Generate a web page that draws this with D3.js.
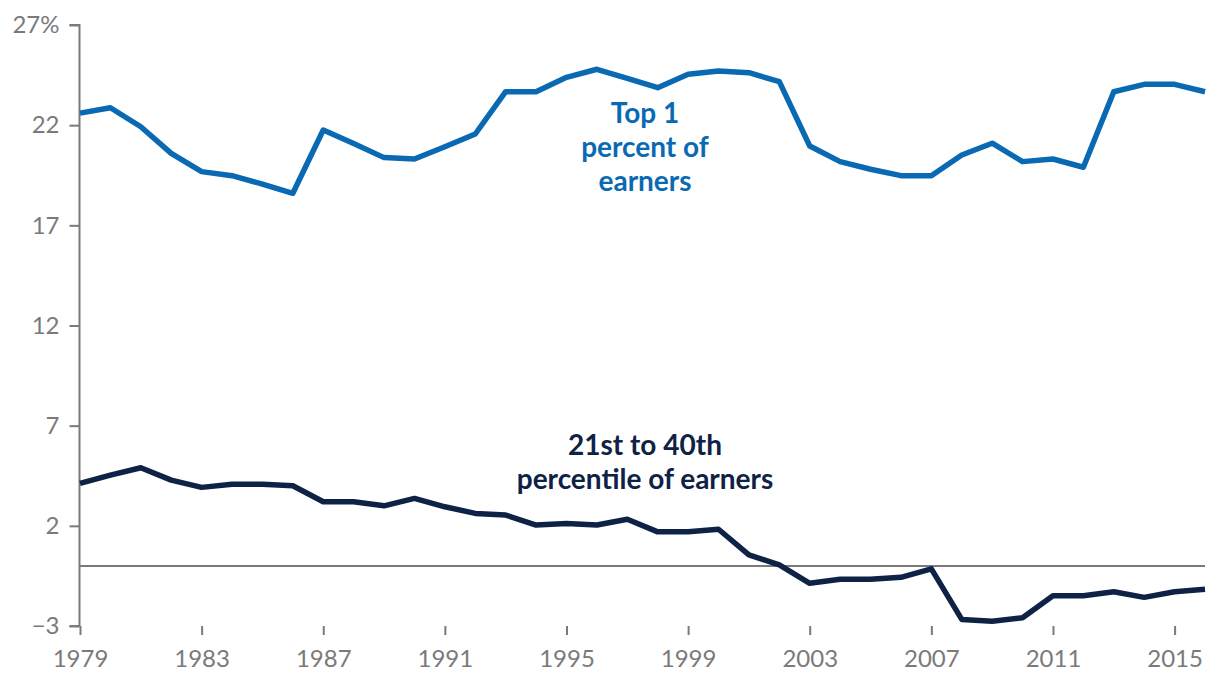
<!DOCTYPE html>
<html>
<head>
<meta charset="utf-8">
<script src="https://cdn.jsdelivr.net/npm/d3@7"></script>
<style>
  html, body { margin: 0; padding: 0; background: #fff; }
  svg { display: block; }
  text { font-family: Lato, "Open Sans", sans-serif; }
</style>
</head>
<body>
<svg id="chart" width="1220" height="688"></svg>
<script>
// ---- Data ----
const years = d3.range(1979, 2017);
const top1 = [22.6, 22.87, 21.92, 20.59, 19.68, 19.48, 19.06, 18.6, 21.76, 21.09,
  20.38, 20.31, 20.92, 21.56, 23.67, 23.67, 24.39, 24.79, 24.34, 23.87,
  24.54, 24.7, 24.62, 24.17, 20.96, 20.18, 19.8, 19.48, 19.48, 20.51,
  21.1, 20.18, 20.31, 19.9, 23.67, 24.04, 24.04, 23.67];
const p21to40 = [4.12, 4.53, 4.9, 4.28, 3.92, 4.08, 4.08, 4.0, 3.2, 3.2,
  3.0, 3.37, 2.95, 2.62, 2.54, 2.04, 2.12, 2.04, 2.33, 1.7,
  1.7, 1.83, 0.55, 0.05, -0.87, -0.67, -0.67, -0.57, -0.15, -2.67,
  -2.76, -2.59, -1.49, -1.49, -1.29, -1.57, -1.29, -1.17];
const yTicks = [-3, 2, 7, 12, 17, 22, 27];
const xTicks = [1979, 1983, 1987, 1991, 1995, 1999, 2003, 2007, 2011, 2015];
const top1Label = ["Top 1", "percent of", "earners"];
const p21Label = ["21st to 40th", "percentile of earners"];

// ---- Layout ----
const svg = d3.select("#chart");
const x = d3.scaleLinear().domain([1979, 2016]).range([80, 1205]);
const y = d3.scaleLinear().domain([-3, 27]).range([626, 25]);
const gray = "#7a7a7a";
const blue = "#0a69b3";
const navy = "#0e2246";

// Y axis
const yAxis = svg.append("g").attr("transform", "translate(79.5,0)")
  .call(d3.axisLeft(y).tickValues(yTicks).tickSize(10).tickPadding(10)
    .tickFormat(d => d === 27 ? "27%" : (d < 0 ? "\u2212" + Math.abs(d) : d)));
yAxis.select(".domain").attr("stroke", gray).attr("stroke-width", 2).attr("d", `M-10,${y(27)}H0V${y(-3)}H-10`);
yAxis.selectAll(".tick line").attr("stroke", gray).attr("stroke-width", 2);
yAxis.selectAll(".tick text").attr("fill", gray).attr("font-size", 24)
  .attr("font-family", "Lato, sans-serif");

// X axis (ticks only, no baseline)
const xAxis = svg.append("g").attr("transform", `translate(0,${y(-3)})`)
  .call(d3.axisBottom(x).tickValues(xTicks).tickSize(9).tickPadding(15).tickFormat(d3.format("d")));
xAxis.select(".domain").remove();
xAxis.selectAll(".tick line").attr("stroke", gray).attr("stroke-width", 2);
xAxis.selectAll(".tick text").attr("fill", gray).attr("font-size", 24)
  .attr("font-family", "Lato, sans-serif");

// Zero line
svg.append("line")
  .attr("x1", x(1979)).attr("x2", x(2016))
  .attr("y1", y(0)).attr("y2", y(0))
  .attr("stroke", gray).attr("stroke-width", 2);

// Lines
const line = d3.line().x((d, i) => x(years[i])).y(d => y(d));
svg.append("path").datum(top1).attr("d", line)
  .attr("fill", "none").attr("stroke", blue).attr("stroke-width", 5.5)
  .attr("stroke-linejoin", "round");
svg.append("path").datum(p21to40).attr("d", line)
  .attr("fill", "none").attr("stroke", navy).attr("stroke-width", 5.5)
  .attr("stroke-linejoin", "round");

// Labels
function label(lines, cx, baseline, color) {
  const t = svg.append("text").attr("text-anchor", "middle")
    .attr("font-size", 28).attr("font-weight", 700).attr("fill", color);
  lines.forEach((s, i) => {
    t.append("tspan").attr("x", cx).attr("y", baseline + i * 34).text(s);
  });
}
label(top1Label, 645, 123, blue);
label(p21Label, 645, 455, navy);
</script>
</body>
</html>
